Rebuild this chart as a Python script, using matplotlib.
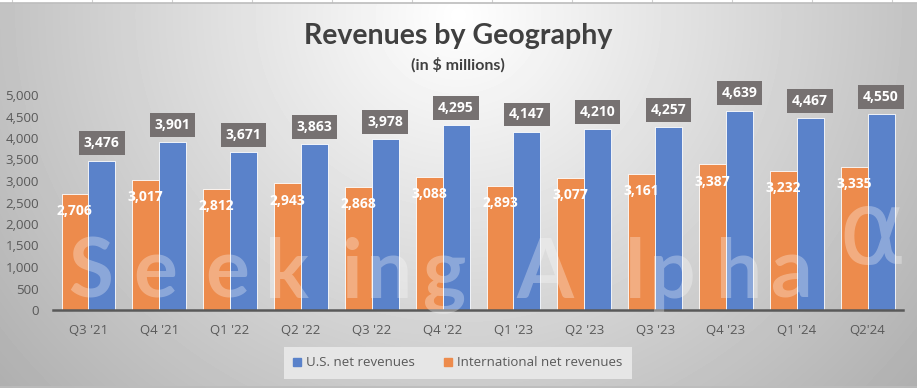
import numpy as np
import matplotlib
matplotlib.use("Agg")
import matplotlib.pyplot as plt
from matplotlib.patches import Patch

quarters = ["Q3 '21", "Q4 '21", "Q1 '22", "Q2 '22", "Q3 '22", "Q4 '22",
            "Q1 '23", "Q2 '23", "Q3 '23", "Q4 '23", "Q1 '24", "Q2'24"]
us_rev = [3476, 3901, 3671, 3863, 3978, 4295, 4147, 4210, 4257, 4639, 4467, 4550]
intl_rev = [2706, 3017, 2812, 2943, 2868, 3088, 2893, 3077, 3161, 3387, 3232, 3335]
yticks = [0, 500, 1000, 1500, 2000, 2500, 3000, 3500, 4000, 4500, 5000]

W, H = 917, 388
fig = plt.figure(figsize=(W / 100, H / 100), dpi=100)

# radial grey background, bright near top centre
bg = fig.add_axes([0, 0, 1, 1], zorder=-10)
yy, xx = np.mgrid[0:H, 0:W]
d = np.sqrt((xx - 458) ** 2 + ((yy - 15) / 0.95) ** 2)
shade = np.clip(1 - 0.00052 * d, 0, 1)
bg.imshow(shade, cmap="gray", vmin=0, vmax=1, extent=[0, W, H, 0], aspect="auto")
bg.set_xlim(0, W)
bg.set_ylim(H, 0)
bg.axis("off")
# spreadsheet strip on top and bottom border
bg.fill_between([0, W], 0, 2.3, color="white")
for gx in range(12, W, 80):
    bg.plot([gx, gx], [0, 2.3], color="#d0d0d0", lw=0.8)
bg.plot([0, W], [2.5, 2.5], color="#bcbcbc", lw=1.2)
bg.plot([0, W], [386.5, 386.5], color="#bcbcbc", lw=1.2)

# watermark, letters spread out like the original
wm_letters = list("SeekingAlpha")
wm_x = [68, 133, 205, 265, 341, 366, 423, 516, 625, 649, 716, 771]
for ch, px in zip(wm_letters, wm_x):
    fig.text(px / W, 1 - 298 / H, ch, fontsize=59, family="Lato", fontweight="bold",
             color="white", alpha=0.3, zorder=4)
fig.text(838 / W, 1 - 264 / H, "\u03b1", fontsize=74, family="DejaVu Sans",
         color="white", alpha=0.3, zorder=4)

ax = fig.add_axes([53 / W, 1 - 310 / H, 850 / W, 215 / H])
ax.set_facecolor("none")

x = np.arange(len(quarters))
bw = 0.38
orange = "#ED8B4C"
blue = "#5A82CA"
ax.bar(x - bw / 2, intl_rev, bw, color=orange, edgecolor="white", linewidth=0.6,
       label="International net revenues", zorder=2)
ax.bar(x + bw / 2, us_rev, bw, color=blue, edgecolor="white", linewidth=0.6,
       label="U.S. net revenues", zorder=2)

for i in range(len(quarters)):
    ax.text(x[i] + bw / 2, us_rev[i] + 400, f"{us_rev[i]:,}", ha="center", va="center",
            color="white", fontsize=10, fontweight="bold", family="Open Sans",
            bbox=dict(boxstyle="square,pad=0.35", fc="#767171", ec="none"),
            zorder=5, clip_on=False)
    ax.text(x[i] - bw / 2, intl_rev[i] - 400, f"{intl_rev[i]:,}", ha="center", va="center",
            color="white", fontsize=10, fontweight="bold", family="Open Sans", zorder=5)

ax.set_xlim(-0.5, len(quarters) - 0.5)
ax.set_ylim(0, 5000)
ax.set_yticks(yticks)
ax.set_yticklabels([f"{v:,}" for v in yticks])
ax.set_xticks(x)
ax.set_xticklabels(quarters)
for lab in ax.get_xticklabels() + ax.get_yticklabels():
    lab.set_family("Open Sans")
    lab.set_fontsize(9.5)
    lab.set_color("#595959")
ax.tick_params(axis="x", length=0, pad=10)
ax.tick_params(axis="y", length=0, pad=10)
for s in ["top", "right", "left"]:
    ax.spines[s].set_visible(False)
ax.spines["bottom"].set_color("#595959")
ax.spines["bottom"].set_linewidth(1.8)
ax.spines["bottom"].set_zorder(3)

fig.text(458 / W, 1 - 36 / H, "Revenues by Geography", ha="center", va="center",
         fontsize=20.5, fontweight="bold", family="Lato", color="#404040")
fig.text(458 / W, 1 - 65 / H, "(in $ millions)", ha="center", va="center",
         fontsize=11.5, fontweight="bold", family="Lato", color="#404040")

handles = [Patch(color=blue, label="U.S. net revenues"),
           Patch(color=orange, label="International net revenues")]
leg = fig.legend(handles=handles, loc="center", bbox_to_anchor=(458 / W, 1 - 363 / H),
                 ncol=2, frameon=True, fancybox=False, prop={"family": "Open Sans", "size": 9.5},
                 handlelength=0.6, handleheight=0.6, handletextpad=0.4, columnspacing=2.2,
                 borderpad=0.7)
leg.get_frame().set_facecolor("#e6e6e6")
leg.get_frame().set_edgecolor("none")
leg.get_frame().set_alpha(1)
for t in leg.get_texts():
    t.set_color("#595959")

fig.savefig("out.png", dpi=100)
